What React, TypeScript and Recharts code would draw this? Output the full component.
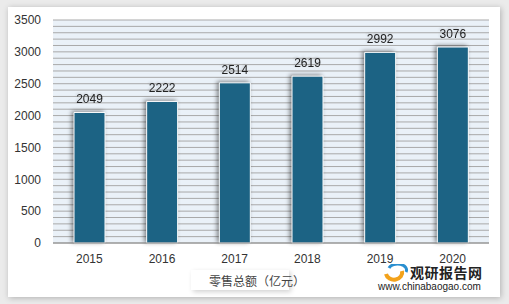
import { BarChart, Bar, XAxis, YAxis, CartesianGrid, LabelList } from 'recharts';

const years = ['2015', '2016', '2017', '2018', '2019', '2020'];
const retailTotal = [2049, 2222, 2514, 2619, 2992, 3076];
const yTicks = [0, 500, 1000, 1500, 2000, 2500, 3000, 3500];
const yMax = 3500;
const gridStep = 100;
const seriesName = '零售总额（亿元）';

const data = years.map((year, i) => ({ year, value: retailTotal[i] }));
const gridLines = Array.from({ length: yMax / gridStep + 1 }, (_, i) => i * gridStep);

const FONT = '"Liberation Sans", Arial, "Noto Sans CJK SC", sans-serif';
const BAR_COLOR = '#1c6384';

// minor gridlines every 100, mapped into the plot area
const gridGen = ({ offset }: any) =>
  gridLines.map((v) => offset.top + offset.height * (1 - v / yMax));

const LegendBox = () => (
  <div
    style={{
      position: 'absolute',
      left: 183,
      top: 263,
      width: 98,
      height: 20,
      background: '#fff',
      boxShadow: '2px 2px 5px rgba(0,0,0,0.18)',
      display: 'flex',
      alignItems: 'center',
      fontFamily: FONT,
      fontSize: 12,
      color: '#444',
      whiteSpace: 'nowrap',
    }}
  >
    <span style={{ width: 5, height: 5, background: BAR_COLOR, marginLeft: 15, marginRight: 3 }} />
    {seriesName}
  </div>
);

export default function App() {
  return (
    <div style={{ position: 'absolute', left: 0, top: 0, width: 509, height: 304, background: '#ebebeb' }}>
      <style>{`
        .recharts-bar-rectangle path { filter: drop-shadow(-2px -1px 2px rgba(0,0,0,0.45)); }
        .recharts-label-list text { filter: drop-shadow(-1px -1px 1px rgba(0,0,0,0.15)); }
      `}</style>
      <div
        style={{
          position: 'absolute',
          left: 8,
          top: 7,
          width: 492,
          height: 290,
          background: '#ffffff',
          boxShadow: '1px 1px 6px rgba(0,0,0,0.25)',
        }}
      >
        {/* plot background */}
        <div style={{ position: 'absolute', left: 45, top: 13, width: 436, height: 223, background: '#eaf1f8' }} />
        <div style={{ position: 'absolute', left: 0, top: 0 }}>
          <BarChart
            width={492}
            height={290}
            data={data}
            margin={{ top: 13, right: 11, bottom: 34, left: 0 }}
          >
            <CartesianGrid
              vertical={false}
              horizontalCoordinatesGenerator={gridGen}
              stroke="#a9a9a9"
              strokeWidth={1}
            />
            <XAxis
              dataKey="year"
              tickLine={false}
              axisLine={{ stroke: '#8c8c8c' }}
              tick={{ fontSize: 12, fill: '#333', fontFamily: FONT }}
              tickMargin={5}
              height={20}
            />
            <YAxis
              width={45}
              domain={[0, yMax]}
              ticks={yTicks}
              tickLine={false}
              axisLine={false}
              tick={{ fontSize: 12, fill: '#333', fontFamily: FONT }}
              tickMargin={6}
            />
            <Bar
              dataKey="value"
              name={seriesName}
              fill={BAR_COLOR}
              stroke="#ffffff"
              strokeWidth={1}
              barSize={31}
              isAnimationActive={false}
            >
              <LabelList
                dataKey="value"
                position="top"
                offset={9}
                style={{ fontSize: 12, fill: '#222', fontFamily: FONT }}
              />
            </Bar>
          </BarChart>
        </div>
        <LegendBox />
        <svg style={{ position: 'absolute', left: 375, top: 257 }} width={26} height={19}>
          <path d="M3 10 A8 7 0 1 0 19 7" fill="none" stroke="#f3a21b" strokeWidth={4} />
          <path d="M23 8 A9 6 0 0 0 6 4" fill="none" stroke="#2a8fd0" strokeWidth={3} />
        </svg>
        <div
          style={{
            position: 'absolute',
            left: 402,
            top: 258,
            fontFamily: '"Noto Sans CJK SC", sans-serif',
            fontWeight: 'bold',
            fontSize: 14,
            lineHeight: '15px',
            color: '#222',
            letterSpacing: 0.5,
            whiteSpace: 'nowrap',
          }}
        >
          观研报告网
        </div>
        <div
          style={{
            position: 'absolute',
            left: 370,
            top: 274,
            fontFamily: FONT,
            fontSize: 10,
            lineHeight: '12px',
            color: '#222',
            whiteSpace: 'nowrap',
          }}
        >
          www.chinabaogao.com
        </div>
      </div>
    </div>
  );
}
